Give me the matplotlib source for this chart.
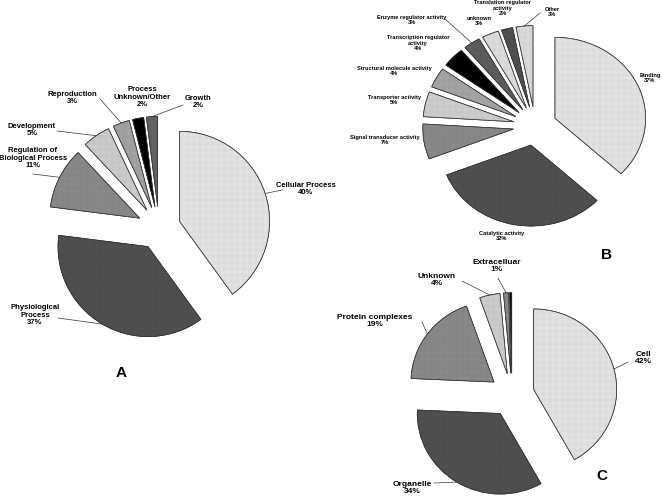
"""Three exploded pie charts (GO categories) laid out on one canvas: A, B and C."""

import numpy as np
from matplotlib import pyplot as plt
from matplotlib import colors as mcolors
from matplotlib.patches import Wedge
from matplotlib.transforms import Affine2D

plt.rcParams['font.family'] = ['Liberation Sans', 'DejaVu Sans']
plt.rcParams['hatch.linewidth'] = 0.3

W, H = 662, 498

# --- data -------------------------------------------------------------
a_labels = ['Cellular Process\n40%', 'Physiological\nProcess\n37%',
            'Regulation of\nBiological Process\n11%', 'Development\n5%',
            'Reproduction\n3%', 'Process\nUnknown/Other\n2%', 'Growth\n2%']
a_values = [40, 37, 11, 5, 3, 2, 2]

b_labels = ['Binding\n37%', 'Catalytic activity\n32%', 'Signal transducer activity\n7%',
            'Transporter activity\n5%', 'Structural molecule activity\n4%',
            'Transcription regulator\nactivity\n4%', 'Enzyme regulator activity\n3%',
            'unknown\n3%', 'Translation regulator\nactivity\n2%', 'Other\n3%']
b_values = [37, 32, 7, 5, 4, 4, 3, 3, 2, 3]

c_labels = ['Cell\n42%', 'Organelle\n34%', 'Protein complexes\n19%', 'Unknown\n4%',
            'Extracelluar\n1%', '']
c_values = [42, 34, 19, 4, 1, 0.4]

# --- styling ----------------------------------------------------------
a_colors = ['#eeeeee', '#545454', '#909090', '#d6d6d6', '#aaaaaa', '#000000', '#686868']
b_colors = ['#eeeeee', '#545454', '#909090', '#d8d8d8', '#acacac', '#000000',
            '#626262', '#e8e8e8', '#545454', '#e6e6e6']
c_colors = ['#eeeeee', '#545454', '#909090', '#d6d6d6', '#909090', '#000000']

# label centre (px from top-left), leader start or None
a_layout = [((306, 189), (282, 190)), ((35, 315), (58, 318)), ((33, 158), (33, 174)),
            ((32, 130), (57, 131)), ((72, 98), (100, 99)), ((142, 97), None),
            ((198, 102), (183, 105))]
b_layout = [((650, 78), None), ((502, 236), None), ((385, 140), None), ((394, 100), None),
            ((394, 71), None), ((418, 43), None), ((412, 20), (445, 19)), ((479, 21), None),
            ((503, 8), None), ((552, 12), (540, 13))]
c_layout = [((643, 358), (628, 362)), ((412, 488), (434, 483)), ((375, 321), (422, 322)),
            ((437, 280), (462, 281)), ((497, 266), (498, 278)), (None, None)]


def px(x, y):
    return x, H - y


def draw_pie(ax, values, colors, labels, layout, center, radius, explode, fsize,
             squash=(1.0, 1.0)):
    c0 = px(*center)
    # pie() takes the explode offset in data units, so scale it by the radius
    wedges, _ = ax.pie(values, colors=colors, startangle=90, counterclock=False,
                       explode=[explode * radius] * len(values), center=c0,
                       radius=radius, wedgeprops=dict(edgecolor='#333333', linewidth=0.5))
    stretch = Affine2D().translate(-c0[0], -c0[1]).scale(*squash).translate(*c0)
    trans = stretch + ax.transData
    for w, col in zip(wedges, colors):
        w.set_transform(trans)
        # fine grid texture like the original print
        grid = tuple(np.array(mcolors.to_rgb(col)) * 0.91)
        tex = Wedge(w.center, w.r, w.theta1, w.theta2, facecolor='none',
                    edgecolor=grid, linewidth=0, hatch='+' * 14, zorder=w.get_zorder())
        tex.set_transform(trans)
        ax.add_patch(tex)
        outline = Wedge(w.center, w.r, w.theta1, w.theta2, facecolor='none',
                        edgecolor='#333333', linewidth=0.5, zorder=w.get_zorder() + 0.1)
        outline.set_transform(trans)
        ax.add_patch(outline)
    for w, lab, (pos, start) in zip(wedges, labels, layout):
        if not lab:
            continue
        ax.text(*px(*pos), lab, ha='center', va='center', fontsize=fsize,
                fontweight='bold', linespacing=1.15)
        if start is not None:
            mid = np.deg2rad((w.theta1 + w.theta2) / 2)
            cx, cy = w.center
            end = stretch.transform((cx + w.r * np.cos(mid), cy + w.r * np.sin(mid)))
            ax.plot([px(*start)[0], end[0]], [px(*start)[1], end[1]],
                    color='#333333', lw=0.5)


fig = plt.figure(figsize=(W / 100, H / 100), dpi=100)
ax = fig.add_axes([0, 0, 1, 1])

draw_pie(ax, a_values, a_colors, a_labels, a_layout, (159, 228), 90, 0.24, 5.5)
draw_pie(ax, b_values, b_colors, b_labels, b_layout, (535, 126), 88, 0.24, 4.1,
         squash=(1.03, 0.92))
draw_pie(ax, c_values, c_colors, c_labels, c_layout, (512, 395), 83, 0.27, 6.0,
         squash=(1.0, 0.97))

ax.set_xlim(0, W)
ax.set_ylim(0, H)
ax.set_aspect('auto')
ax.axis('off')

for letter, pos in [('A', (121, 373)), ('B', (606, 255)), ('C', (602, 476))]:
    ax.text(*px(*pos), letter, ha='center', va='center', fontsize=11, fontweight='bold')

fig.savefig('out.png', dpi=100)
